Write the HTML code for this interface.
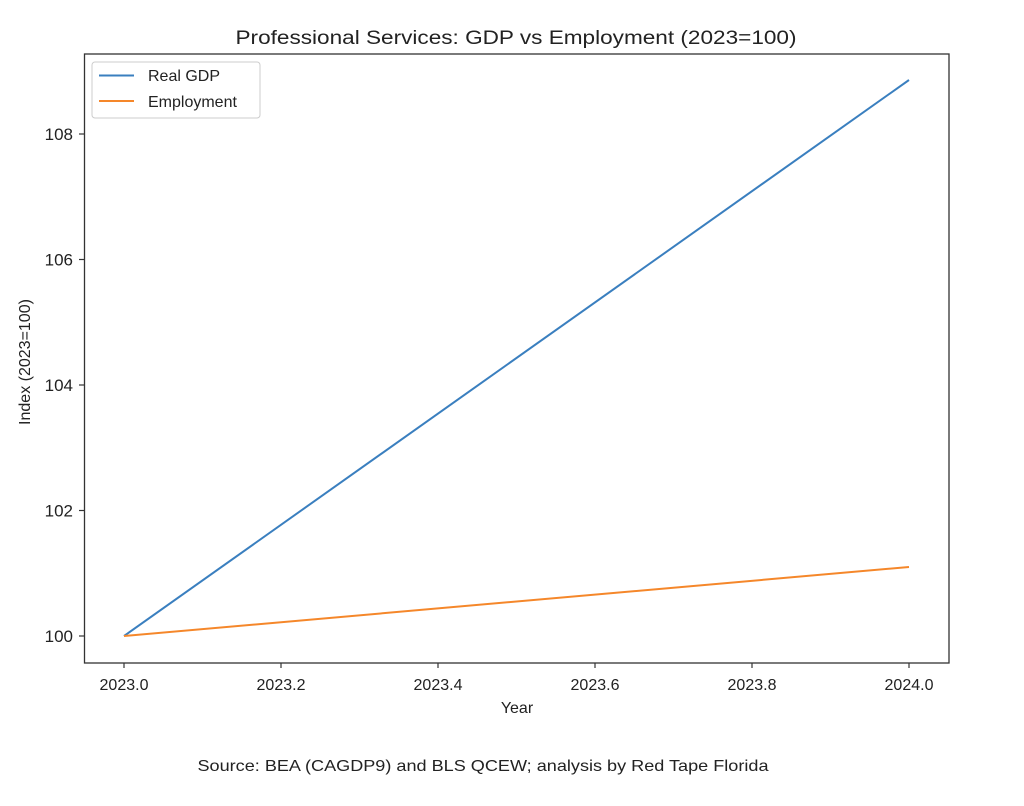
<!DOCTYPE html>
<html><head><meta charset="utf-8"><style>body{margin:0;background:#fff}svg{display:block}text{font-family:"Liberation Sans",sans-serif;fill:#222}</style></head>
<body>
<svg width="1024" height="806" viewBox="0 0 1024 806" xmlns="http://www.w3.org/2000/svg">
<rect width="1024" height="806" fill="#fff"/>
<text x="516" y="44" font-size="19" text-anchor="middle" textLength="561" lengthAdjust="spacingAndGlyphs">Professional Services: GDP vs Employment (2023=100)</text>
<rect x="84.5" y="54" width="864.5" height="609" fill="none" stroke="#333" stroke-width="1.3"/>
<g stroke="#333" stroke-width="1.2">
<line x1="79" y1="134" x2="84.5" y2="134"/><line x1="79" y1="259.5" x2="84.5" y2="259.5"/><line x1="79" y1="385" x2="84.5" y2="385"/><line x1="79" y1="510.5" x2="84.5" y2="510.5"/><line x1="79" y1="636" x2="84.5" y2="636"/>
<line x1="124" y1="663" x2="124" y2="668"/><line x1="281" y1="663" x2="281" y2="668"/><line x1="438" y1="663" x2="438" y2="668"/><line x1="595" y1="663" x2="595" y2="668"/><line x1="752" y1="663" x2="752" y2="668"/><line x1="909" y1="663" x2="909" y2="668"/>
</g>
<g font-size="17" text-anchor="end">
<text x="73" y="140">108</text><text x="73" y="265.5">106</text><text x="73" y="391">104</text><text x="73" y="516.5">102</text><text x="73" y="642">100</text>
</g>
<g font-size="16" text-anchor="middle">
<text x="124" y="690">2023.0</text><text x="281" y="690">2023.2</text><text x="438" y="690">2023.4</text><text x="595" y="690">2023.6</text><text x="752" y="690">2023.8</text><text x="909" y="690">2024.0</text>
<text x="517" y="713">Year</text>
</g>
<text transform="translate(30,362) rotate(-90)" font-size="16" text-anchor="middle">Index (2023=100)</text>
<polyline points="124,636 909,80" fill="none" stroke="#3a7fbf" stroke-width="2"/>
<polyline points="124,636 909,567" fill="none" stroke="#f5872a" stroke-width="2"/>
<rect x="92" y="62" width="168" height="56" rx="3" fill="#fff" stroke="#ccc" stroke-width="1"/>
<line x1="99" y1="75.5" x2="134" y2="75.5" stroke="#3a7fbf" stroke-width="2"/>
<line x1="99" y1="101" x2="134" y2="101" stroke="#f5872a" stroke-width="2"/>
<text x="148" y="81" font-size="16">Real GDP</text>
<text x="148" y="107" font-size="16">Employment</text>
<text x="483" y="771" font-size="16" text-anchor="middle" textLength="571" lengthAdjust="spacingAndGlyphs">Source: BEA (CAGDP9) and BLS QCEW; analysis by Red Tape Florida</text>
</svg>
</body></html>
